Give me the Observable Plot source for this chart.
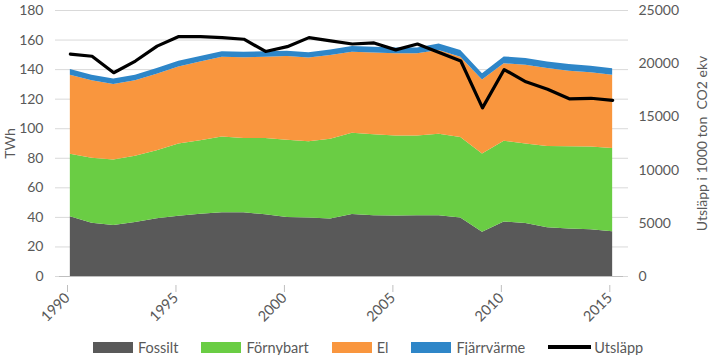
<!DOCTYPE html>
<html><head><meta charset="utf-8">
<script src="https://cdn.jsdelivr.net/npm/d3@7"></script>
<script src="https://cdn.jsdelivr.net/npm/@observablehq/plot@0.6"></script>
<style>
body{margin:0;background:#fff;font-family:Lato, "Open Sans", sans-serif;}
#wrap{position:relative;width:715px;height:355px;overflow:hidden}
#legend{position:absolute;left:93px;top:338px;display:flex;align-items:center;font-size:14.5px;color:#595959;height:18px;white-space:nowrap}
.item{display:flex;align-items:center;margin-right:23px}
.sw{width:40px;height:11px;margin-right:5px}
.ln{width:43px;height:3.5px;background:#000;margin-right:3px}
</style></head><body><div id="wrap"></div>
<script>
const years = [1990,1991,1992,1993,1994,1995,1996,1997,1998,1999,2000,2001,2002,2003,2004,2005,2006,2007,2008,2009,2010,2011,2012,2013,2014,2015];
const fossilt    = [40.5,36,34.5,36.5,39,40.7,42.2,43.1,43.1,41.8,40,39.6,38.9,42,41.1,40.9,41.1,41.1,39.6,30,36.9,35.8,33,32.2,31.6,30.2];
const fornybart  = [42.2,44,44.4,44.8,46.1,48.9,49.6,51.3,50.2,51.5,52.2,51.5,54,54.9,54.9,54.2,54,55.1,54.4,52.9,54.7,53.8,55,55.6,56,56.5];
const el         = [53.5,52.4,51.1,51.1,51.8,52.2,53.3,54,54.7,55.1,56.7,56.7,56.7,54.9,55.3,55.6,55.6,56.8,54.4,50,52.4,53.3,52.7,51.1,50.2,49.5];
const fjarrvarme = [3.8,3.8,3.6,3.7,3.8,3.9,3.8,3.7,3.7,3.7,3.6,3.6,3.6,3.8,3.8,3.9,4,4.4,4.5,4.3,4.6,4.6,4.5,4.5,4.5,4.3];
const utslapp    = [20900,20700,19150,20250,21650,22550,22550,22450,22300,21150,21600,22450,22150,21850,21950,21300,21850,21050,20250,15850,19450,18300,17600,16700,16750,16550];
const seriesNames = ["Fossilt","Förnybart","El","Fjärrvärme"];
const seriesColors = ["#595959","#6acd44","#f9963e","#2e86c8"];
const lineName = "Utsläpp";
const leftTicks = [0,20,40,60,80,100,120,140,160,180];
const rightTicks = [0,5000,10000,15000,20000,25000];
const xTicks = [1990,1995,2000,2005,2010,2015];
const leftLabel = "TWh";
const rightLabel = "Utsläpp i 1000 ton \u00A0CO2 ekv";

const yMax = 180, rMax = 25000, k = yMax / rMax;
const seriesValues = [fossilt, fornybart, el, fjarrvarme];
const rows = [];
seriesNames.forEach((s, j) => years.forEach((y, i) => rows.push({year: y, series: s, value: seriesValues[j][i]})));
const em = years.map((y, i) => ({year: y, value: utslapp[i] * k}));
const fontFamily = "Lato, 'Open Sans', sans-serif";

const chart = Plot.plot({
  width: 715, height: 332,
  marginTop: 10, marginBottom: 56, marginLeft: 59, marginRight: 92,
  style: {fontFamily, fontSize: "14px", color: "#595959", background: "#fff"},
  x: {type: "linear", domain: [1990, 2016]},
  y: {domain: [0, yMax]},
  color: {domain: seriesNames, range: seriesColors},
  marks: [
    Plot.gridY(leftTicks, {stroke: "#d9d9d9", strokeOpacity: 1, insetLeft: -4, insetRight: -5}),
    Plot.areaY(rows, {x: d => d.year + 0.5, y: "value", fill: "series", order: seriesNames}),
    Plot.lineY(em, {x: d => d.year + 0.5, y: "value", stroke: "#000", strokeWidth: 3.2}),
    Plot.ruleY([0], {stroke: "#bfbfbf"}),
    Plot.axisX(xTicks, {tickSize: 7, tickPadding: 3, tickRotate: -45, tickFormat: d => String(d), stroke: "#bfbfbf", fill: "#595959", fontSize: 14.5, label: null, dx: 8, dy: 9}),
    Plot.axisY(leftTicks, {anchor: "left", tickSize: 0, tickPadding: 16, fill: "#595959", label: leftLabel, labelAnchor: "center", labelOffset: 54, labelArrow: false}),
    Plot.axisY(rightTicks.map(t => t * k), {anchor: "right", tickSize: 0, tickPadding: 15, fill: "#595959", tickFormat: v => String(Math.round(v / k)), label: rightLabel, labelAnchor: "center", labelOffset: 83, labelArrow: false})
  ]
});
const wrap = document.getElementById("wrap");
wrap.appendChild(chart);

const legend = document.createElement("div");
legend.id = "legend";
seriesNames.forEach((s, i) => {
  const it = document.createElement("div"); it.className = "item";
  const sw = document.createElement("span"); sw.className = "sw"; sw.style.background = seriesColors[i];
  const tx = document.createElement("span"); tx.textContent = s;
  it.append(sw, tx); legend.appendChild(it);
});
const it = document.createElement("div"); it.className = "item";
const ln = document.createElement("span"); ln.className = "ln";
const tx = document.createElement("span"); tx.textContent = lineName;
it.append(ln, tx); legend.appendChild(it);
wrap.appendChild(legend);
</script>
</body></html>
